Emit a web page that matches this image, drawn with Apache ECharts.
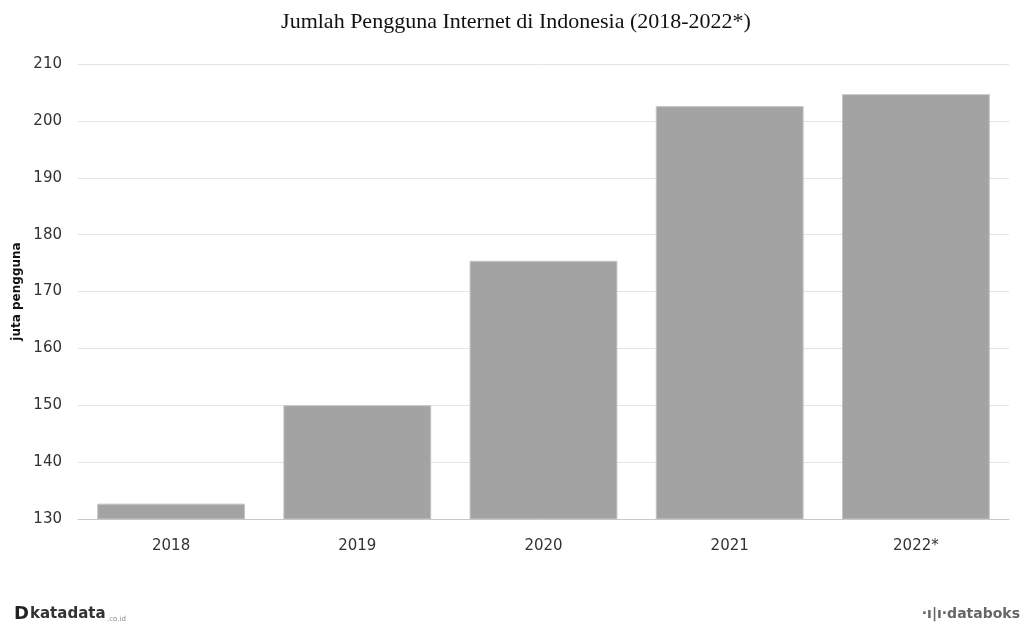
<!DOCTYPE html>
<html>
<head>
<meta charset="utf-8">
<script src="https://cdn.jsdelivr.net/npm/echarts@6/dist/echarts.min.js"></script>
<style>html,body{margin:0;padding:0;background:#fff}#c{width:1032px;height:628px}</style>
</head>
<body>
<div id="c"></div>
<script>
const categories = ['2018', '2019', '2020', '2021', '2022*'];
const values = [132.7, 150.0, 175.4, 202.6, 204.7];
const yTicks = [130, 140, 150, 160, 170, 180, 190, 200, 210];

const chart = echarts.init(document.getElementById('c'));
chart.setOption({
  animation: false,
  backgroundColor: '#fff',
  title: {
    text: 'Jumlah Pengguna Internet di Indonesia (2018-2022*)',
    left: 'center', top: 6,
    textStyle: {fontFamily: 'Liberation Serif', fontSize: 22, fontWeight: 'normal', color: '#111'}
  },
  grid: {left: 78, right: 23, top: 64, bottom: 109},
  xAxis: {
    type: 'category', data: categories,
    axisLine: {lineStyle: {color: '#c8c8c8'}},
    axisTick: {alignWithLabel: true, length: 6, lineStyle: {color: '#c8c8c8'}},
    axisLabel: {fontFamily: 'DejaVu Sans', fontSize: 15, color: '#333', margin: 20}
  },
  yAxis: {
    type: 'value', min: yTicks[0], max: yTicks[yTicks.length - 1], interval: 10,
    name: 'juta pengguna', nameLocation: 'middle', nameGap: 54, nameRotate: 90,
    nameTextStyle: {fontFamily: 'DejaVu Sans', fontSize: 12, fontWeight: 'bold', color: '#111'},
    axisLine: {show: false}, axisTick: {show: false},
    axisLabel: {fontFamily: 'DejaVu Sans', fontSize: 15, color: '#333', margin: 16},
    splitLine: {lineStyle: {color: '#e4e4e4', type: 'solid', width: 1}}
  },
  series: [{
    type: 'bar', data: values, barCategoryGap: '20.6%',
    itemStyle: {color: '#a3a3a3', borderColor: '#c4c4c4', borderWidth: 1}
  }],
  graphic: [
    {type: 'text', left: 14, top: 605, style: {text: 'D', font: 'bold 18px "DejaVu Sans"', fill: '#222'}},
    {type: 'text', left: 30, top: 607, style: {text: 'katadata', font: 'bold 15px "DejaVu Sans"', fill: '#333'}},
    {type: 'text', left: 107, top: 616, style: {text: '.co.id', font: '7px "DejaVu Sans"', fill: '#888'}},
    {type: 'text', right: 12, top: 607, style: {text: '·ı|ı·databoks', font: 'bold 14px "DejaVu Sans"', fill: '#666'}}
  ]
});
</script>
</body>
</html>
